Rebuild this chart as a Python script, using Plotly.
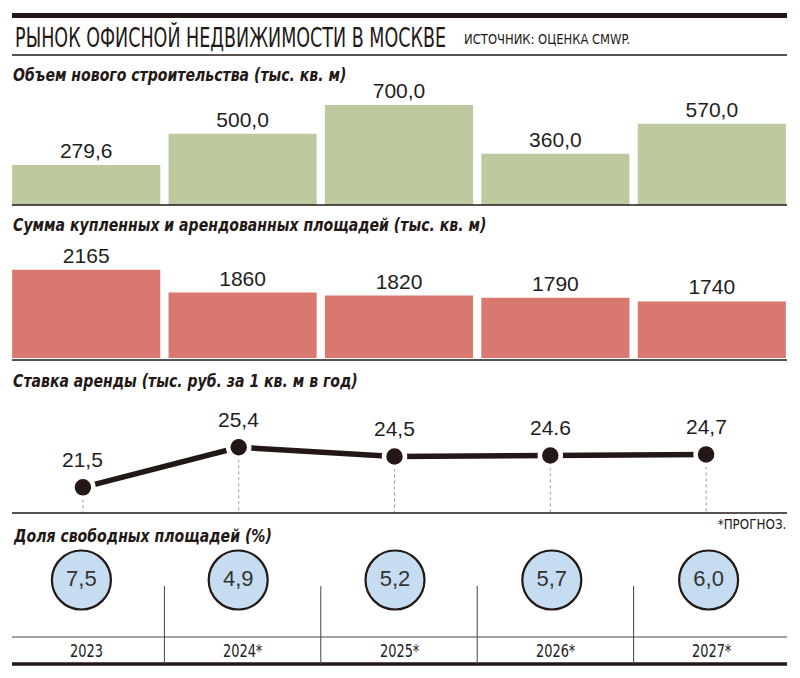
import json
import plotly.graph_objects as go

# ---------------- data ----------------
years = ["2023", "2024*", "2025*", "2026*", "2027*"]
construction = [279.6, 500.0, 700.0, 360.0, 570.0]          # тыс. кв. м
deals = [2165, 1860, 1820, 1790, 1740]                      # тыс. кв. м
rent = [21.5, 25.4, 24.5, 24.6, 24.7]                       # тыс. руб. за 1 кв. м в год
rent_labels = ["21,5", "25,4", "24,5", "24.6", "24,7"]
vacancy = [7.5, 4.9, 5.2, 5.7, 6.0]                         # %

title = "РЫНОК ОФИСНОЙ НЕДВИЖИМОСТИ В МОСКВЕ"
source = "ИСТОЧНИК: ОЦЕНКА CMWP."
section_titles = [
    "Объем нового строительства (тыс. кв. м)",
    "Сумма купленных и арендованных площадей (тыс. кв. м)",
    "Ставка аренды (тыс. руб. за 1 кв. м в год)",
    "Доля свободных площадей (%)",
]
note = "*ПРОГНОЗ."

# ---------------- styles ----------------
W, H = 800, 678
def px_x(x):
    return x / W
def px_y(y):
    return 1 - y / H

NARROW = "DejaVu Sans Condensed, Liberation Sans Narrow, Arial Narrow, sans-serif"
SANS = "Liberation Sans, Arial, Helvetica, sans-serif"
DARK = "#231815"
GREEN = "#bdc99f"
RED = "#d9786f"
BLUE = "#c6ddf1"

def fmt1(v):
    return f"{v:.1f}".replace(".", ",")

fig = go.Figure()

# Panel 1: new construction
fig.add_trace(go.Bar(
    x=years, y=construction, text=[fmt1(v) for v in construction],
    textposition="outside", cliponaxis=False,
    marker=dict(color=GREEN, line=dict(width=0)),
    textfont=dict(family=SANS, size=21, color="#1e1e1e"),
    xaxis="x", yaxis="y", hoverinfo="skip"))

# Panel 2: deals
fig.add_trace(go.Bar(
    x=years, y=deals, text=[str(v) for v in deals],
    textposition="outside", cliponaxis=False,
    marker=dict(color=RED, line=dict(width=0)),
    textfont=dict(family=SANS, size=21, color="#1e1e1e"),
    xaxis="x2", yaxis="y2", hoverinfo="skip"))

# Panel 3: rent line
fig.add_trace(go.Scatter(
    x=years, y=rent, mode="lines+markers", cliponaxis=False,
    line=dict(color=DARK, width=5.5),
    marker=dict(size=21, color=DARK, line=dict(color="white", width=4.5)),
    xaxis="x3", yaxis="y3", hoverinfo="skip"))

# Panel 4: vacancy circles
fig.add_trace(go.Scatter(
    x=years, y=[0.5] * len(years), mode="markers+text",
    text=[fmt1(v) for v in vacancy], textposition="middle center",
    textfont=dict(family=SANS, size=22, color="#333333"),
    marker=dict(size=59, color=BLUE, line=dict(color=DARK, width=2.2)),
    cliponaxis=False, xaxis="x4", yaxis="y4", hoverinfo="skip"))

hidden = dict(visible=False, fixedrange=True)
fig.update_layout(
    width=W, height=H, margin=dict(l=0, r=0, t=0, b=0),
    paper_bgcolor="white", plot_bgcolor="rgba(0,0,0,0)",
    showlegend=False, bargap=0.053,
    xaxis=dict(domain=[px_x(8), px_x(790)], type="category", range=[-0.5, 4.5], anchor="y", **hidden),
    yaxis=dict(domain=[px_y(205), px_y(90)], range=[0, 806], anchor="x", **hidden),
    xaxis2=dict(domain=[px_x(8), px_x(790)], type="category", range=[-0.5, 4.5], anchor="y2", **hidden),
    yaxis2=dict(domain=[px_y(358), px_y(245)], range=[980, 2499], anchor="x2", **hidden),
    xaxis3=dict(domain=[px_x(5), px_x(784)], type="category", range=[-0.5, 4.5], anchor="y3", **hidden),
    yaxis3=dict(domain=[px_y(513), px_y(400)], range=[19, 30], anchor="x3", **hidden),
    xaxis4=dict(domain=[px_x(3), px_x(787)], type="category", range=[-0.5, 4.5], anchor="y4", **hidden),
    yaxis4=dict(domain=[px_y(611), px_y(549)], range=[0, 1], anchor="x4", **hidden),
)

shapes = []
def hline(y, width, x0=12, x1=787, color=DARK):
    shapes.append(dict(type="line", xref="paper", yref="paper",
                       x0=px_x(x0), x1=px_x(x1), y0=px_y(y), y1=px_y(y),
                       line=dict(color=color, width=width)))

hline(15.5, 5)
hline(55, 1.5)
hline(205, 1.6)
hline(360, 1.6)
hline(513, 1.4)
hline(637, 1, color="#444")
hline(664, 3.5)

# column separators in bottom row
for i in range(len(years) - 1):
    shapes.append(dict(type="line", xref="x", yref="paper", x0=i + 0.5, x1=i + 0.5,
                       y0=px_y(586), y1=px_y(664), line=dict(color="#444", width=1)))

# dotted drop lines under rent points
for i, v in enumerate(rent):
    shapes.append(dict(type="line", xref="x3", yref="y3", x0=i, x1=i, y0=v, y1=19,
                       layer="below", line=dict(color="#9a9a9a", width=1, dash="dot")))

annotations = []
squeeze = {}  # annotation index -> [horizontal scale, anchor]

def add_ann(scale=None, **kw):
    if scale is not None:
        squeeze[str(len(annotations))] = [scale, kw.get("xanchor", "center")]
    annotations.append(dict(showarrow=False, **kw))

add_ann(scale=0.75, text=title, xref="paper", yref="paper", x=px_x(13), y=px_y(37.5),
        xanchor="left", yanchor="middle", font=dict(family=NARROW, size=26, color=DARK))
add_ann(scale=0.92, text=source, xref="paper", yref="paper", x=px_x(462), y=px_y(39),
        xanchor="left", yanchor="middle", font=dict(family=NARROW, size=14, color=DARK))
for txt, y in zip(section_titles, [75, 225, 381, 536]):
    add_ann(scale=0.92, text=f"<b><i>{txt}</i></b>", xref="paper", yref="paper",
            x=px_x(11), y=px_y(y), xanchor="left", yanchor="middle",
            font=dict(family=NARROW, size=17, color=DARK))
add_ann(scale=0.95, text=note, xref="paper", yref="paper", x=px_x(788), y=px_y(524),
        xanchor="right", yanchor="middle", font=dict(family=NARROW, size=14, color=DARK))
for i, (v, lab) in enumerate(zip(rent, rent_labels)):
    add_ann(text=lab, xref="x3", yref="y3", x=i, y=v, yshift=28,
            xanchor="center", yanchor="middle",
            font=dict(family=SANS, size=21, color="#1e1e1e"))
for i, yr in enumerate(years):
    add_ann(scale=0.8, text=yr, xref="x", yref="paper", x=i, y=px_y(650),
            xanchor="center", yanchor="middle",
            font=dict(family=NARROW, size=18, color="#222"))

fig.update_layout(shapes=shapes, annotations=annotations)

post = """
var gd = document.getElementById('{plot_id}');
var S = %s;
function squeezeText(){
  gd.querySelectorAll('g.annotation').forEach(function(g){
    var i = g.getAttribute('data-index');
    if (!(i in S)) return;
    var t = g.querySelector('text.annotation-text');
    if (!t) return;
    t.removeAttribute('transform');
    var b = t.getBBox();
    var s = S[i][0], a = S[i][1];
    var ax = (a === 'left') ? b.x : ((a === 'right') ? b.x + b.width : b.x + b.width / 2);
    t.setAttribute('transform', 'translate(' + ax + ',0) scale(' + s + ',1) translate(' + (-ax) + ',0)');
  });
}
squeezeText();
gd.on('plotly_afterplot', squeezeText);
""" % json.dumps(squeeze)

fig.write_html("out.html", post_script=post)
